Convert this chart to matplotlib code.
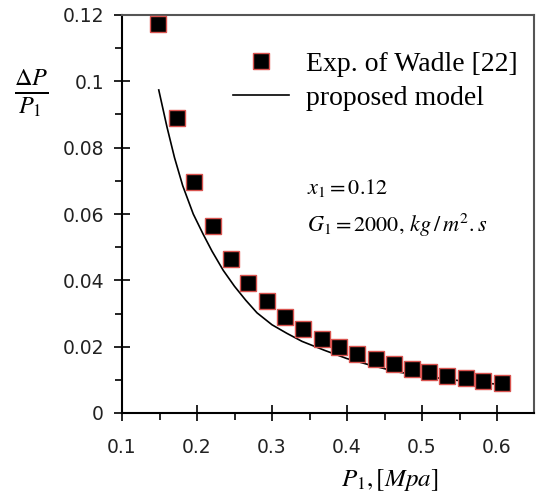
import numpy as np
import matplotlib
matplotlib.use('Agg')
import matplotlib.pyplot as plt
from matplotlib.ticker import MultipleLocator

# experimental points (Wadle [22])
exp_p1 = [0.148, 0.173, 0.196, 0.221, 0.245, 0.268, 0.293, 0.317, 0.341, 0.366,
          0.389, 0.413, 0.439, 0.463, 0.487, 0.509, 0.533, 0.559, 0.581, 0.607]
exp_dp = [0.1173, 0.0889, 0.0696, 0.0564, 0.0464, 0.0392, 0.0338, 0.0289, 0.0253, 0.0223,
          0.0199, 0.0178, 0.0163, 0.0148, 0.0133, 0.0124, 0.0112, 0.0106, 0.0096, 0.0090]

# proposed model curve
model_p1 = [0.149, 0.16, 0.17, 0.181, 0.195, 0.208, 0.22, 0.235, 0.25, 0.265, 0.28,
            0.30, 0.32, 0.34, 0.37, 0.40, 0.43, 0.467, 0.50, 0.54, 0.575, 0.61]
model_dp = [0.0974, 0.0862, 0.0770, 0.0685, 0.0600, 0.0540, 0.0488, 0.0430, 0.0382,
            0.0340, 0.0302, 0.0266, 0.0240, 0.0216, 0.0189, 0.0164, 0.0145, 0.0124,
            0.0112, 0.0100, 0.0092, 0.0085]

xticks = [0.1, 0.2, 0.3, 0.4, 0.5, 0.6]
yticks = [0, 0.02, 0.04, 0.06, 0.08, 0.1, 0.12]
ylabels = ['0', '0.02', '0.04', '0.06', '0.08', '0.1', '0.12']

plt.rcParams['mathtext.fontset'] = 'stix'

fig = plt.figure(figsize=(5.36, 5.0), dpi=100)
ax = fig.add_axes([122 / 536, 1 - 413 / 500, 412 / 536, 398 / 500])

ax.plot(exp_p1, exp_dp, 's', color='black', markersize=11.5,
        markeredgecolor='#d9534f', markeredgewidth=1.0,
        label='Exp. of Wadle [22]', zorder=3)
ax.plot(model_p1, model_dp, '-', color='black', linewidth=1.2,
        label='proposed model', zorder=2)

ax.set_xlim(0.1, 0.1 + 412 / 750)
ax.set_ylim(0, 0.12)
ax.set_xticks(xticks)
ax.set_xticklabels(['%g' % t for t in xticks])
ax.set_yticks(yticks)
ax.set_yticklabels(ylabels)
ax.xaxis.set_minor_locator(MultipleLocator(0.05))
ax.yaxis.set_minor_locator(MultipleLocator(0.01))

ax.tick_params(which='major', direction='inout', length=12, width=1.2,
               labelsize=13.5, labelcolor='#222222', top=False, right=False)
ax.tick_params(axis='x', which='major', pad=12)
ax.tick_params(axis='y', which='major', pad=7)
ax.tick_params(which='minor', direction='out', length=5, width=1.2,
               top=False, right=False)

for side in ['left', 'bottom']:
    ax.spines[side].set_linewidth(1.5)
    ax.spines[side].set_color('black')
for side in ['top', 'right']:
    ax.spines[side].set_linewidth(1.5)
    ax.spines[side].set_color('#555555')

leg = ax.legend(loc='upper right', bbox_to_anchor=(1.0, 0.95), frameon=False,
                prop={'family': 'Liberation Serif', 'size': 20},
                handlelength=2.0, handletextpad=0.6, labelspacing=0.3,
                borderaxespad=0.2)

ax.text(0.45, 0.565, r'$x_1 = 0.12$', transform=ax.transAxes, fontsize=16,
        va='center')
ax.text(0.45, 0.472, r'$G_1 = 2000,\, kg\,/\,m^2.s$', transform=ax.transAxes,
        fontsize=16, va='center')

ax.set_xlabel(r'$P_1,[Mpa]$', fontsize=18)
ax.xaxis.set_label_coords(0.65, -0.135)
ax.set_ylabel(r'$\frac{\Delta P}{P_1}$', fontsize=25, rotation=0, va='center', ha='center')
ax.yaxis.set_label_coords(-0.22, 0.805)

fig.savefig('out.png', dpi=100)
